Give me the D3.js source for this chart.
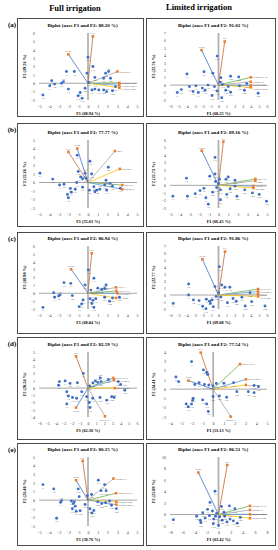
<!DOCTYPE html>
<html>
<head>
<meta charset="utf-8">
<script src="https://cdn.jsdelivr.net/npm/d3@7/dist/d3.min.js"></script>
<style>
body { margin: 0; background: #fff; }
text { font-family: "Liberation Serif", "Times New Roman", serif; }
</style>
</head>
<body>
<svg id="fig" width="278" height="550"></svg>
<script>
// header + panel texts
var rowLetters = ["(a)", "(b)", "(c)", "(d)", "(e)"];
var totalFull = [88.20, 77.77, 86.94, 82.59, 80.15];
var totalLim  = [91.02, 89.16, 91.86, 77.54, 86.51];
var f1Full = [68.94, 55.61, 68.04, 62.36, 58.76];
var f1Lim  = [68.25, 66.45, 69.08, 53.13, 63.42];
var f2Full = [19.26, 22.16, 18.90, 20.24, 21.40];
var f2Lim  = [22.76, 22.71, 22.77, 24.41, 23.09];

// axis ranges (F1, F2)
var xDomFull = [[-5, 5], [-5, 5], [-5, 5], [-6, 6], [-5, 5]];
var yDomFull = [[-2, 6], [-3, 5], [-2, 6], [-4, 5], [-3, 5]];
var xDomLim  = [[-6, 6], [-5, 5], [-6, 6], [-4, 5], [-8, 8]];
var yDomLim  = [[-2, 7], [-3, 6], [-2, 7], [-3, 4], [-2, 10]];

var genotypes = ["Y1","Y2","Y3","Y4","Y5","Y6","Y7","Y8","Y9","Y10","Y11","Y12","Y13","Y14","Y15","Y16",
  "Y17","Y18","Y19","Y20","Y21","Y22","Y23","Y24","Y25","Y26","Y27","Y28","Y29","Y30","Y31"];

// observations (F1, F2)
var pts_aF = [[-3.7,0.3],[-4.6,-1.4],[-3.9,-0.3],[-3.4,-0.1],[-2.7,0.0],[-2.5,0.2],[-2.2,1.4],[-1.4,1.4],[-2.0,-0.7],[-1.0,-1.5],[-0.8,-1.1],[-0.6,-1.8],[-0.1,1.2],[0.0,3.1],[0.5,2.0],[0.1,0.1],[0.4,-0.8],[0.7,-0.7],[1.1,-0.8],[0.7,0.7],[1.6,0.6],[1.8,1.2],[2.1,1.4],[1.6,-0.8],[1.9,-1.0],[2.3,0.6],[2.8,-0.4],[2.5,-0.9],[-0.3,-0.6]];
var pts_aL = [[-5.1,-1.0],[-4.6,-0.6],[-3.9,1.5],[-3.6,-0.2],[-3.15,-0.85],[-2.8,-0.1],[-2.5,-1.0],[-2.0,-0.4],[-1.8,1.8],[-1.66,-0.7],[-1.3,0.0],[-0.8,-1.4],[-0.7,1.6],[-0.5,-0.2],[-0.17,3.9],[-0.17,-0.8],[0.2,0.4],[0.3,1.0],[0.5,0.1],[0.9,-0.7],[1.2,-0.2],[1.5,1.2],[1.5,-0.95],[2.5,1.1],[2.6,-0.1],[3.2,-0.7],[3.5,0.2],[4.9,-1.1],[0.4,-1.7]];
var pts_bF = [[-4.9,1.1],[-3.6,0.4],[-2.9,-0.3],[-2.45,-0.2],[-1.8,-0.7],[-2.1,-1.4],[-1.7,-1.15],[-2.0,-1.8],[-1.3,-0.8],[-1.15,0.0],[-1.1,3.2],[-1.0,1.3],[-0.75,0.65],[-0.55,0.45],[-0.3,1.1],[-0.2,0.5],[-0.55,-0.55],[0.2,2.5],[0.37,1.0],[0.14,-0.9],[0.6,-0.5],[0.9,-0.9],[1.2,-0.8],[0.7,-1.1],[1.84,0.27],[2.07,1.8],[2.25,-0.1],[1.7,-0.3],[2.5,-0.4],[1.9,-0.9],[3.3,-0.67]];
var pts_bL = [[-4.7,-1.45],[-3.3,0.95],[-3.2,-1.45],[-2.4,-1.1],[-1.9,-0.7],[-1.5,-0.4],[-1.3,-1.65],[-1.05,-2.5],[-0.9,1.2],[-0.36,1.5],[-0.36,3.7],[-0.3,0.5],[0.1,0.8],[-0.2,-0.3],[0.2,-0.6],[0.0,0.2],[0.2,-1.9],[0.77,0.8],[1.0,1.1],[1.7,0.67],[0.85,-1.2],[1.9,-1.45],[2.7,-0.6],[3.5,-1.0],[4.2,-1.2],[4.95,-2.1],[1.2,-0.45],[1.7,-0.1],[-0.6,-0.9]];
var pts_cF = [[-4.6,-1.8],[-3.5,0.07],[-3.4,-0.5],[-3.0,-0.35],[-2.85,-0.2],[-2.45,1.35],[-1.76,1.25],[-0.9,-1.7],[-0.65,-1.37],[-0.5,-0.86],[-0.3,1.05],[0.03,2.95],[0.6,1.9],[0.2,-0.7],[0.4,-1.3],[0.5,-0.9],[0.8,-0.7],[0.6,-1.8],[1.0,0.65],[1.4,0.5],[1.7,0.6],[1.84,1.05],[1.7,-0.5],[2.2,-1.0],[2.5,-0.6],[3.2,-0.5],[-1.6,-0.3],[0.3,0.4]];
var pts_cL = [[-5.6,-1.2],[-3.7,1.57],[-3.7,0.0],[-3.1,-0.7],[-2.4,-0.8],[-1.5,-0.6],[-1.1,-0.9],[-0.8,-0.7],[-1.96,-1.6],[-1.55,-1.95],[-0.64,-1.67],[-1.0,-1.2],[-0.43,1.2],[0.0,0.33],[0.1,4.05],[0.4,1.43],[0.8,1.1],[1.4,1.1],[1.1,-1.1],[1.8,-0.5],[2.9,-0.33],[3.3,-1.57],[4.1,-0.95],[5.75,-1.57],[3.9,0.33],[0.3,-0.3],[-0.3,-0.2],[2.2,-0.9]];
var pts_dF = [[-3.5,0.9],[-3.6,0.4],[-2.8,1.0],[-2.2,0.65],[-1.3,0.74],[-0.57,2.04],[-2.6,-0.5],[-2.4,-1.1],[-1.9,-1.3],[-1.4,-1.4],[-2.6,-2.2],[-0.77,-0.5],[-0.16,-1.2],[0.16,-2.0],[0.24,-2.7],[0.57,-1.4],[0.9,1.0],[0.6,0.7],[1.2,0.8],[1.5,1.4],[1.6,0.9],[1.47,-1.3],[2.3,-1.67],[2.9,-1.2],[3.7,0.9],[4.0,0.5],[4.5,-0.3],[3.2,-1.3],[2.5,1.2],[0.2,0.3]];
var pts_dL = [[-2.0,2.96],[-3.45,1.3],[-3.2,0.8],[-0.9,2.07],[-0.6,1.8],[-0.5,1.6],[-1.7,0.5],[-1.3,0.7],[-0.8,0.5],[-0.4,0.45],[0.0,0.35],[0.3,0.6],[-1.84,-1.0],[-2.5,-1.6],[-2.3,-1.9],[-2.0,-1.6],[-1.9,-1.2],[-0.97,-1.16],[-0.6,-1.6],[-0.45,-2.4],[0.0,-0.8],[0.58,-0.73],[1.26,-0.87],[1.0,0.63],[1.9,0.7],[2.2,-0.27],[3.27,-0.27],[3.8,-0.38],[4.2,0.27],[3.8,0.4]];
var pts_eF = [[-4.6,1.8],[-3.5,1.3],[-2.8,-0.26],[-2.7,-0.06],[-3.2,-2.1],[-1.7,-0.1],[-1.5,-0.4],[-1.4,-0.2],[-1.3,-0.7],[-1.6,-1.0],[-1.2,-1.3],[-1.0,1.3],[-0.9,0.4],[-0.8,-1.24],[-0.07,0.5],[0.37,0.66],[1.05,2.3],[1.33,1.1],[1.7,1.8],[1.85,1.1],[0.2,-1.0],[0.4,-1.5],[0.6,-1.2],[1.0,-0.2],[1.4,-0.4],[1.8,-0.3],[2.2,-0.1],[2.4,-0.6],[2.9,-0.98],[-0.3,-0.5]];
var pts_eL = [[-7.45,-0.9],[-0.58,4.05],[-3.0,-1.0],[-3.6,-0.3],[-2.6,0.3],[-2.2,-0.6],[-1.8,0.9],[-1.5,-0.2],[-1.4,2.1],[-1.0,0.6],[-0.8,-0.8],[-0.86,-1.6],[0.0,-1.9],[-0.3,0.2],[0.2,-0.4],[0.5,1.4],[1.8,1.5],[2.7,1.0],[2.45,-1.1],[3.1,-1.5],[1.9,-0.8],[1.0,-0.3],[1.4,-1.3],[0.6,-1.0],[-2.9,-1.4],[3.6,-0.5],[-0.5,-0.3],[0.9,0.4]];

// variable loadings (name, F1, F2)
var vec_aF = [["GY",0.5,5.6],["TGW",-2.0,3.45],["GNDVI.F",3.0,1.4],["GNDVI.LCF",3.2,0.05],["GNDVI.MLF",3.2,-0.25],["GNDVI.SBF",3.2,-0.55]];
var vec_aL = [["TGW",-2.1,4.7],["GY",0.77,5.85],["GNDVI.LCF",4.0,1.05],["GNDVI.F",4.0,0.45],["GNDVI.MLF",4.0,-0.05],["GNDVI.SBF",4.0,-0.3]];
var vec_bF = [["GY",-2.0,3.6],["TGW",-1.1,4.0],["SR.F",2.75,3.7],["SR.SBF",3.25,1.6],["SR.LCF",3.5,-0.3],["SR.MLF",3.5,-0.8]];
var vec_bL = [["TGW",-1.73,4.58],["GY",0.5,5.77],["SR.LCF",3.8,0.85],["SR.F",3.8,0.6],["SR.MLF",3.6,-0.1],["SR.SBF",3.6,-0.35]];
var vec_cF = [["GY",0.38,5.07],["TGW",-1.73,3.05],["GCI.F",2.86,0.75],["GCI.LCF",2.9,0.3],["GCI.MLF",3.0,0.0],["GCI.SBF",2.86,-0.6]];
var vec_cL = [["TGW",-2.0,5.1],["GY",0.8,6.2],["GCI.LCF",4.9,0.85],["GCI.MLF",4.9,0.5],["GCI.F",4.9,0.15],["GCI.SBF",4.9,-0.2]];
var vec_dF = [["GY",-1.47,4.4],["TGW",-1.47,-2.7],["RDVI.LCF",3.1,1.4],["RDVI.MLF",3.2,1.1],["RDVI.SBF",3.3,0.0],["RDVI.F",2.08,-3.9]];
var vec_dL = [["GY",-1.15,3.93],["TGW",-2.3,0.92],["RDVI.LCF",2.5,2.7],["RDVI.MLF",3.05,1.06],["RDVI.SBF",3.05,0.45],["RDVI.F",1.63,-2.96]];
var vec_eF = [["GY",-0.54,4.56],["TGW",-1.22,2.3],["NDREI.F",2.6,2.5],["NDREI.LCF",2.86,0.8],["NDREI.SBF",2.9,-0.2],["NDREI.MLF",2.9,-0.53]];
var vec_eL = [["TGW",-3.33,7.3],["GY",1.45,8.6],["NDREI.LCF",5.2,1.5],["NDREI.F",5.2,0.8],["NDREI.MLF",5.2,0.05],["NDREI.SBF",5.2,-0.65]];

var ptsFull = [pts_aF, pts_bF, pts_cF, pts_dF, pts_eF];
var ptsLim  = [pts_aL, pts_bL, pts_cL, pts_dL, pts_eL];
var vecFull = [vec_aF, vec_bF, vec_cF, vec_dF, vec_eF];
var vecLim  = [vec_aL, vec_bL, vec_cL, vec_dL, vec_eL];

// layout
var rowTop = [18, 123, 232, 337, 443], rowBot = [116, 226, 333, 439, 545];
var plotTop = [33, 140, 246, 352, 457], plotBot = [100, 208, 309, 417, 526];
var boxFull = [17.5, 143.5], boxLim = [146.5, 275.5];
var plotFull = [39, 137], plotLim = [170, 267];

var vecFont = 2.9, ptFont = 2.5;

function vecColor(name) {
  if (name === "GY") return "#c8682e";
  if (name === "TGW") return "#4472c4";
  var suf = name.split(".")[1];
  if (suf === "F") return "#a5a5a5";
  if (suf === "LCF") return "#70ad47";
  if (suf === "MLF") return "#5b9bd5";
  return "#ffc000";
}

// rough text box for collision checks
function textBox(cx, ly, txt, fs, anchor) {
  var w = txt.length * fs * 0.52;
  var x0 = anchor === "start" ? cx : cx - w / 2;
  return [x0, ly - fs * 0.75, x0 + w, ly + fs * 0.1];
}
function hits(b, list) {
  return list.some(function(o) {
    return b[0] < o[2] && b[2] > o[0] && b[1] < o[3] && b[3] > o[1];
  });
}

var svg = d3.select("#fig");

svg.append("text").attr("x", 75).attr("y", 11).attr("text-anchor", "middle")
  .attr("font-size", 8.5).attr("font-weight", "bold").text("Full irrigation");
svg.append("text").attr("x", 199).attr("y", 10).attr("text-anchor", "middle")
  .attr("font-size", 8.5).attr("font-weight", "bold").text("Limited irrigation");

function drawPanel(r, side) {
  var full = side === "F";
  var box = full ? boxFull : boxLim,
      pl = full ? plotFull : plotLim,
      xd = full ? xDomFull[r] : xDomLim[r],
      yd = full ? yDomFull[r] : yDomLim[r],
      pts = full ? ptsFull[r] : ptsLim[r],
      vecs = full ? vecFull[r] : vecLim[r],
      tot = full ? totalFull[r] : totalLim[r],
      f1 = full ? f1Full[r] : f1Lim[r],
      f2 = full ? f2Full[r] : f2Lim[r];

  var g = svg.append("g");

  g.append("rect")
    .attr("x", box[0]).attr("y", rowTop[r] + 0.5)
    .attr("width", box[1] - box[0]).attr("height", rowBot[r] - rowTop[r])
    .attr("fill", "none").attr("stroke", "#4a4a4a").attr("stroke-width", 1);

  var x = d3.scaleLinear().domain(xd).range(pl);
  var y = d3.scaleLinear().domain(yd).range([plotBot[r], plotTop[r]]);

  var xStep = (xd[1] - xd[0]) > 12 ? 2 : 1,
      yStep = (yd[1] - yd[0]) > 10 ? 2 : 1;

  var xAxis = d3.axisBottom(x).tickValues(d3.range(xd[0], xd[1] + 0.01, xStep))
    .tickSize(0).tickPadding(2).tickFormat(d3.format("d"));
  var yAxis = d3.axisLeft(y).tickValues(d3.range(yd[0], yd[1] + 0.01, yStep))
    .tickSize(0).tickPadding(2).tickFormat(d3.format("d"));

  var gx = g.append("g").attr("transform", "translate(0," + (plotBot[r] + 3) + ")").call(xAxis);
  var gy = g.append("g").attr("transform", "translate(" + (pl[0] - 2) + ",0)").call(yAxis);
  [gx, gy].forEach(function(a) {
    a.select(".domain").remove();
    a.selectAll("text").attr("font-size", 4).attr("fill", "#333")
      .style("font-family", "Liberation Serif");
  });

  // axes through origin
  var thick = !full && r !== 3;
  g.append("line")
    .attr("x1", x(xd[0])).attr("x2", x(xd[1])).attr("y1", y(0)).attr("y2", y(0))
    .attr("stroke", "#a6a6a6").attr("stroke-width", 1);
  g.append("line")
    .attr("x1", x(0)).attr("x2", x(0)).attr("y1", y(yd[0])).attr("y2", y(yd[1]))
    .attr("stroke", thick ? "#b0b0b0" : "#555").attr("stroke-width", thick ? 1.8 : 0.8);

  // titles
  g.append("text").attr("x", (box[0] + box[1]) / 2 + 2).attr("y", plotTop[r] - 6)
    .attr("text-anchor", "middle").attr("font-size", 5).attr("font-weight", "bold")
    .text("Biplot (axes F1 and F2: " + tot.toFixed(2) + " %)");
  g.append("text").attr("x", (pl[0] + pl[1]) / 2).attr("y", plotBot[r] + 14.5)
    .attr("text-anchor", "middle").attr("font-size", 4.3).attr("font-weight", "bold")
    .text("F1 (" + f1.toFixed(2) + " %)");
  var yc = (plotTop[r] + plotBot[r]) / 2;
  g.append("text").attr("transform", "translate(" + (box[0] + 8.5) + "," + yc + ") rotate(-90)")
    .attr("text-anchor", "middle").attr("font-size", 4.3).attr("font-weight", "bold")
    .text("F2 (" + f2.toFixed(2) + " %)");

  // loading vectors
  g.selectAll(".vec").data(vecs).enter().append("line")
    .attr("x1", x(0)).attr("y1", y(0))
    .attr("x2", function(d) { return x(d[1]); })
    .attr("y2", function(d) { return y(d[2]); })
    .attr("stroke", function(d) { return vecColor(d[0]); })
    .attr("stroke-width", 0.8);

  // observations
  g.selectAll(".pt").data(pts).enter().append("circle")
    .attr("cx", function(d) { return x(d[0]); })
    .attr("cy", function(d) { return y(d[1]); })
    .attr("r", 1.45).attr("fill", "#3f6fc6");

  // vector end markers
  g.selectAll(".mk").data(vecs).enter().append("rect")
    .attr("x", function(d) { return x(d[1]) - 1.3; })
    .attr("y", function(d) { return y(d[2]) - 1.3; })
    .attr("width", 2.6).attr("height", 2.6).attr("fill", "#ed7d31");

  // vector labels; the ones on the right are stacked so they don't overlap
  var labs = vecs.map(function(d) {
    var right = d[1] > 1.5 && d[2] > -2;
    return {
      name: d[0], right: right,
      lx: right ? x(d[1]) + 2 : x(d[1]),
      ly: right ? y(d[2]) + 1 : (d[2] < 0 ? y(d[2]) + 4.5 : y(d[2]) - 2.2)
    };
  });
  var rightLabs = labs.filter(function(l) { return l.right; })
    .sort(function(a, b) { return a.ly - b.ly; });
  for (var i = 1; i < rightLabs.length; i++) {
    if (rightLabs[i].ly - rightLabs[i - 1].ly < 3.1) rightLabs[i].ly = rightLabs[i - 1].ly + 3.1;
  }
  var placed = labs.map(function(l) {
    return textBox(l.lx, l.ly, l.name, vecFont, l.right ? "start" : "middle");
  });
  g.selectAll(".vl").data(labs).enter().append("text")
    .attr("x", function(l) { return l.lx; })
    .attr("y", function(l) { return l.ly; })
    .attr("text-anchor", function(l) { return l.right ? "start" : "middle"; })
    .attr("font-size", vecFont).attr("fill", "#333")
    .text(function(l) { return l.name; });

  // point labels: greedy placement (below, above, right, left)
  var ptLabs = pts.map(function(d, i) {
    var px = x(d[0]), py = y(d[1]), txt = genotypes[i];
    var w = txt.length * ptFont * 0.52;
    var cands = [[px, py + 4], [px, py - 2], [px + 2 + w / 2, py + 1], [px - 2 - w / 2, py + 1],
                 [px + 1.5 + w / 2, py + 4], [px - 1.5 - w / 2, py - 2]];
    var pick = cands[i % 2 ? 1 : 0];
    for (var k = 0; k < cands.length; k++) {
      var b = textBox(cands[k][0], cands[k][1], txt, ptFont, "middle");
      if (!hits(b, placed)) { pick = cands[k]; break; }
    }
    placed.push(textBox(pick[0], pick[1], txt, ptFont, "middle"));
    return { txt: txt, lx: pick[0], ly: pick[1] };
  });
  g.selectAll(".ptl").data(ptLabs).enter().append("text")
    .attr("x", function(l) { return l.lx; })
    .attr("y", function(l) { return l.ly; })
    .attr("text-anchor", "middle").attr("font-size", ptFont).attr("fill", "#444")
    .text(function(l) { return l.txt; });
}

for (var r = 0; r < 5; r++) {
  svg.append("text").attr("x", 12).attr("y", rowTop[r] + 9).attr("text-anchor", "middle")
    .attr("font-size", 7).attr("font-weight", "bold").text(rowLetters[r]);
  drawPanel(r, "F");
  drawPanel(r, "L");
}
</script>
</body>
</html>
